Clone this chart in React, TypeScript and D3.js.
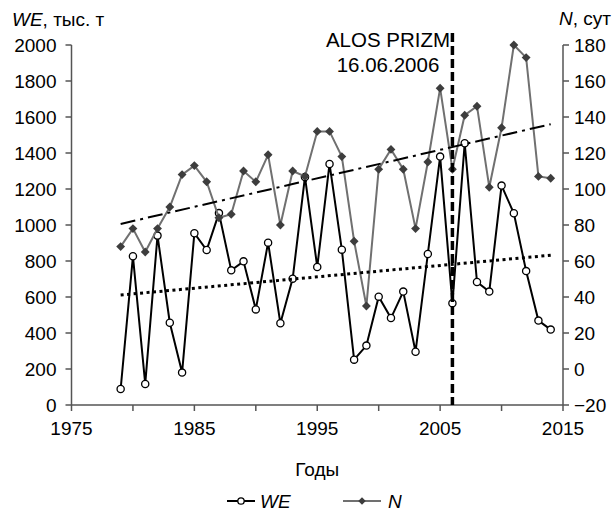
import React from "react";
import * as d3 from "d3";

const years = [1979,1980,1981,1982,1983,1984,1985,1986,1987,1988,1989,1990,1991,1992,1993,1994,1995,1996,1997,1998,1999,2000,2001,2002,2003,2004,2005,2006,2007,2008,2009,2010,2011,2012,2013,2014];
const weValues = [89,826,117,941,457,180,954,861,1066,748,798,531,902,454,702,1267,767,1339,863,252,330,602,483,630,296,839,1380,565,1454,683,630,1219,1065,744,469,419];
const nValues = [68,78,65,78,90,108,113,104,84,86,110,104,119,80,110,107,132,132,118,71,35,111,122,111,78,115,156,111,141,146,101,134,180,173,107,106];
const weTrendYears = [1979, 2014];
const weTrendValues = [611, 832];
const nTrendYears = [1979, 2014];
const nTrendValues = [80.6, 136];
const eventYear = 2006;
const eventLabel = ["ALOS PRIZM", "16.06.2006"];
const xTicks = [1975,1980,1985,1990,1995,2000,2005,2010,2015];
const xLabels = [1975,1985,1995,2005,2015];
const leftTicks = [0,200,400,600,800,1000,1200,1400,1600,1800,2000];
const rightTicks = [-20,0,20,40,60,80,100,120,140,160,180];

const W = 615, H = 512;
const FONT = "'Liberation Sans', Arial, Helvetica, sans-serif";

export default function App() {
  const x = d3.scaleLinear().domain([1975, 2015]).range([71.5, 563]);
  const yL = d3.scaleLinear().domain([0, 2000]).range([405, 45]);
  const yR = d3.scaleLinear().domain([-20, 180]).range([405, 45]);

  const weLine = d3.line<number>().x((_, i) => x(years[i])).y((d) => yL(d));
  const nLine = d3.line<number>().x((_, i) => x(years[i])).y((d) => yR(d));
  const weTrend = d3.line<number>().x((_, i) => x(weTrendYears[i])).y((d) => yL(d));
  const nTrend = d3.line<number>().x((_, i) => x(nTrendYears[i])).y((d) => yR(d));
  const diamond = d3.symbol().type(d3.symbolDiamond2).size(50)();
  const diamondSmall = d3.symbol().type(d3.symbolDiamond2).size(36)();

  const axisColor = "#555";
  const fs = 19;
  const x0 = x(1975), x1 = x(2015), yb = yL(0), yt = yL(2000);

  return (
    <svg width={W} height={H} style={{ position: "absolute", left: 0, top: 0, background: "#fff" }} fontFamily={FONT}>
      {/* axes */}
      <line x1={x0} y1={yt} x2={x0} y2={yb} stroke={axisColor} strokeWidth={1.5} />
      <line x1={x1} y1={yt} x2={x1} y2={yb} stroke={axisColor} strokeWidth={1.5} />
      <line x1={x0} y1={yb} x2={x1} y2={yb} stroke={axisColor} strokeWidth={1.5} />
      {leftTicks.map((t) => (
        <g key={"l" + t}>
          <line x1={x0 - 6} x2={x0} y1={yL(t)} y2={yL(t)} stroke={axisColor} strokeWidth={1.5} />
          <text x={x0 - 15} y={yL(t)} dy="0.36em" textAnchor="end" fontSize={fs}>{t}</text>
        </g>
      ))}
      {rightTicks.map((t) => (
        <g key={"r" + t}>
          <line x1={x1} x2={x1 + 6} y1={yR(t)} y2={yR(t)} stroke={axisColor} strokeWidth={1.5} />
          <text x={x1 + 11} y={yR(t)} dy="0.36em" textAnchor="start" fontSize={fs}>{t < 0 ? "\u2212" + Math.abs(t) : t}</text>
        </g>
      ))}
      {xTicks.map((t) => (
        <line key={"x" + t} x1={x(t)} x2={x(t)} y1={yb} y2={yb + 6} stroke={axisColor} strokeWidth={1.5} />
      ))}
      {xLabels.map((t) => (
        <text key={"xl" + t} x={x(t)} y={435} textAnchor="middle" fontSize={fs}>{t}</text>
      ))}
      <text x={(x0 + x1) / 2} y={476} textAnchor="middle" fontSize={fs}>Годы</text>
      <text x={12} y={26} fontSize={fs}><tspan fontStyle="italic">WE</tspan>, тыс. т</text>
      <text x={611} y={25} textAnchor="end" fontSize={fs}><tspan fontStyle="italic">N</tspan>, сут</text>

      {/* WE series */}
      <path d={weLine(weValues) || ""} fill="none" stroke="#000" strokeWidth={2} />
      {weValues.map((v, i) => (
        <circle key={"we" + i} cx={x(years[i])} cy={yL(v)} r={3.6} fill="#fff" stroke="#000" strokeWidth={1.3} />
      ))}
      {/* N series */}
      <path d={nLine(nValues) || ""} fill="none" stroke="#707070" strokeWidth={2} />
      {nValues.map((v, i) => (
        <path key={"n" + i} d={diamond || ""} transform={`translate(${x(years[i])},${yR(v)})`} fill="#3d3d3d" />
      ))}

      {/* trends */}
      <path d={weTrend(weTrendValues) || ""} fill="none" stroke="#000" strokeWidth={3} strokeDasharray="3,3.5" />
      <path d={nTrend(nTrendValues) || ""} fill="none" stroke="#000" strokeWidth={2} strokeDasharray="15,5,3,5" />

      {/* event line */}
      <line x1={x(eventYear)} x2={x(eventYear)} y1={33} y2={yb} stroke="#000" strokeWidth={3.5} strokeDasharray="9,4" />
      <text x={388} y={47} textAnchor="middle" fontSize={20.5}>{eventLabel[0]}</text>
      <text x={388} y={72} textAnchor="middle" fontSize={20.5}>{eventLabel[1]}</text>

      {/* legend */}
      <line x1={227} x2={255} y1={501} y2={501} stroke="#000" strokeWidth={2} />
      <circle cx={241} cy={501} r={3.2} fill="#fff" stroke="#000" strokeWidth={1.3} />
      <text x={260} y={508} fontSize={fs} fontStyle="italic">WE</text>
      <line x1={343} x2={381} y1={501} y2={501} stroke="#707070" strokeWidth={2} />
      <path d={diamondSmall || ""} transform="translate(362,501)" fill="#3d3d3d" />
      <text x={388} y={508} fontSize={fs} fontStyle="italic">N</text>
    </svg>
  );
}
